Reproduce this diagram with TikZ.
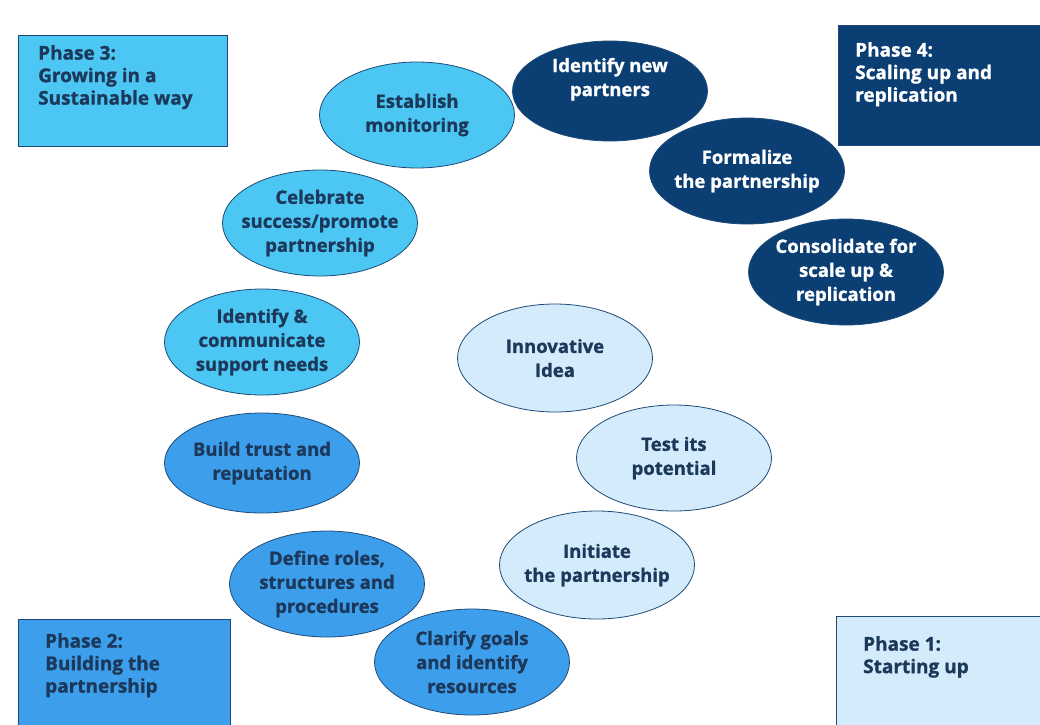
\documentclass[tikz,border=0pt]{standalone}
\usepackage{fontspec}
\setmainfont[BoldFeatures={FakeBold=1.1}]{Open Sans}
\usetikzlibrary{shapes.geometric}
\definecolor{navy}{HTML}{0B3F74}
\definecolor{cyanA}{HTML}{4CC6F2}
\definecolor{blueB}{HTML}{3D9FEC}
\definecolor{paleC}{HTML}{D3EBFA}
\definecolor{txtdark}{HTML}{1C385A}
\definecolor{edgedark}{HTML}{1F4A78}
\tikzset{
  x=1pt, y=-1pt,
  oval/.style={ellipse, draw=edgedark, line width=0.8pt, minimum width=195pt, minimum height=106pt, inner xsep=-25pt, inner ysep=-8pt, align=center, font=\fontsize{18.5}{24}\selectfont\bfseries},
  ph4/.style={oval, fill=navy, text=white},
  ph3/.style={oval, fill=cyanA, text=txtdark},
  ph2/.style={oval, fill=blueB, text=txtdark},
  ph1/.style={oval, fill=paleC, text=txtdark},
  phasebox/.style={draw=edgedark, line width=0.8pt},
  phasetxt/.style={anchor=north west, align=left, inner sep=0pt, font=\fontsize{19}{22.5}\selectfont\bfseries}
}
\begin{document}
\begin{tikzpicture}
\useasboundingbox (0,0) rectangle (1040,724);
% phase boxes
\path[phasebox, fill=cyanA] (18,35) rectangle (227,146);
\node[phasetxt, text=txtdark] (p3) at (38,45) {Phase 3:\\Growing in a\\Sustainable way};
\path[phasebox, fill=navy] (838,25) rectangle (1041,145);
\node[phasetxt, text=white] (p4) at (855,42) {Phase 4:\\Scaling up and\\replication};
\path[phasebox, fill=blueB] (18,619) rectangle (230,725);
\node[phasetxt, text=txtdark] (p2) at (45,633) {Phase 2:\\Building the\\partnership};
\path[phasebox, fill=paleC] (836,616) rectangle (1041,725);
\node[phasetxt, text=txtdark] (p1) at (863,636) {Phase 1:\\Starting up};
% ellipses
\node[ph3] (em) at (417,115) {Establish\\monitoring};
\node[ph4, minimum height=100pt] (inp) at (610,91) {Identify new\\partners\\[4pt]};
\node[ph4] (fp) at (747,171) {Formalize\\the partnership};
\node[ph4] (cs) at (846,272) {Consolidate for\\scale up \&\\replication};
\node[ph3] (cel) at (320,223) {Celebrate\\success/promote\\partnership};
\node[ph3] (isn) at (262,342) {Identify \&\\communicate\\support needs};
\node[ph2, minimum height=100pt] (bt) at (262,463) {Build trust and\\reputation};
\node[ph2] (dr) at (327,584) {Define roles,\\structures and\\procedures};
\node[ph2] (cg) at (472,662) {Clarify goals\\and identify\\resources};
\node[ph1, minimum height=108pt] (ii) at (555,358) {Innovative\\Idea};
\node[ph1] (tp) at (674,458) {Test its\\potential};
\node[ph1, minimum height=108pt] (ip) at (597,565) {Initiate\\the partnership};
\end{tikzpicture}
\end{document}
